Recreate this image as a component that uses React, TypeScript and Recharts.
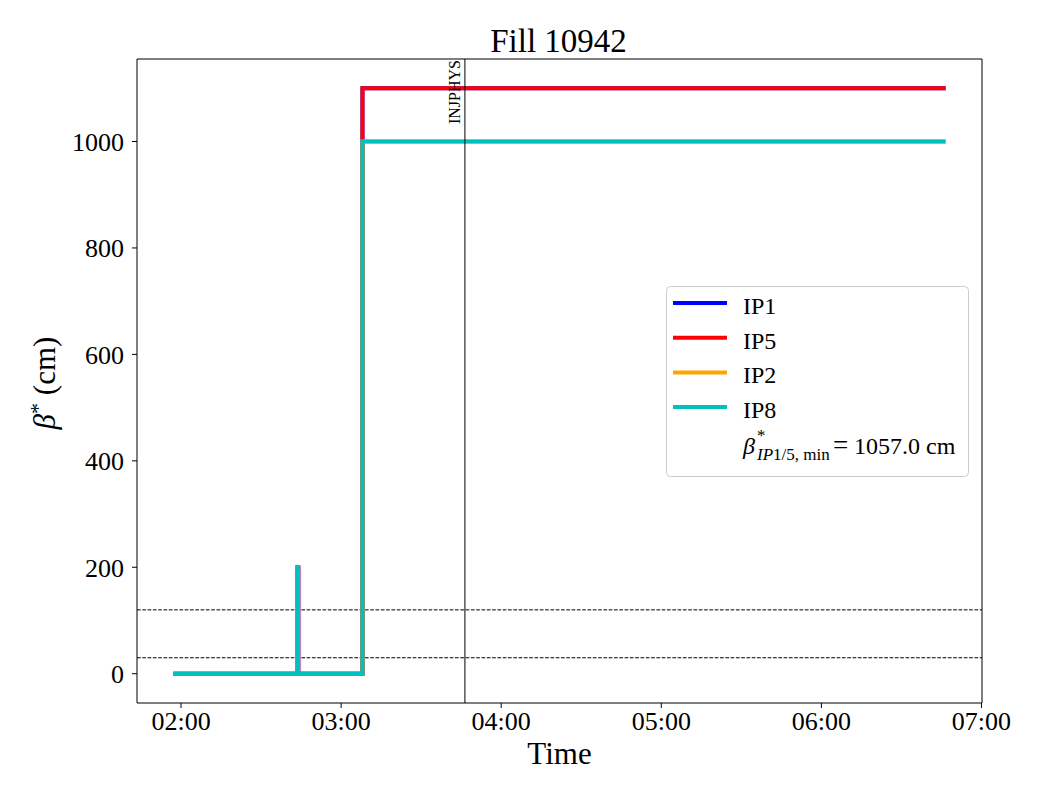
import { LineChart, Line, XAxis, YAxis, ReferenceLine, Legend, Label } from 'recharts'

// time in minutes after midnight, beta* in cm
const TIME_IP15 = [117.9, 163.75, 163.95, 188.0, 405.8]
const TIME_IP28 = [117.9, 163.55, 163.75, 188.0, 405.8]
const BETA_IP1 = [0, 200, 0, 1100, 1100]
const BETA_IP5 = [0, 200, 0, 1100, 1100]
const BETA_IP2 = [0, 200, 0, 1000, 1000]
const BETA_IP8 = [0, 200, 0, 1000, 1000]

const X_TICKS = [120, 180, 240, 300, 360, 420]
const Y_TICKS = [0, 200, 400, 600, 800, 1000]
const X_DOMAIN: [number, number] = [103.5, 420.2]
const Y_DOMAIN: [number, number] = [-55, 1155]
const THRESHOLDS = [120, 30]
const INJPHYS_TIME = 226.4
const FILL = 10942
const BETA_MIN = 1057.0

const FONT = "'Liberation Serif', 'Times New Roman', serif"

const toRows = (t: number[], b: number[]) => t.map((x, i) => ({ t: x, beta: b[i] }))

const SERIES = [
  { name: 'IP1', color: '#0000ff', data: toRows(TIME_IP15, BETA_IP1) },
  { name: 'IP5', color: '#ff0000', data: toRows(TIME_IP15, BETA_IP5) },
  { name: 'IP2', color: '#ffa500', data: toRows(TIME_IP28, BETA_IP2) },
  { name: 'IP8', color: '#00bfbf', data: toRows(TIME_IP28, BETA_IP8) },
]

const hhmm = (m: number) =>
  `${String(Math.floor(m / 60)).padStart(2, '0')}:${String(Math.round(m % 60)).padStart(2, '0')}`

function LegendBox() {
  return (
    <svg width={304} height={192} style={{ display: 'block' }} fontFamily={FONT}>
      <rect x={0.5} y={0.5} width={302} height={190} rx={4} fill="#fff" fillOpacity={0.8} stroke="#cccccc" />
      {SERIES.map((s, i) => (
        <g key={s.name}>
          <line x1={7} x2={61} y1={17 + i * 34.7} y2={17 + i * 34.7} stroke={s.color} strokeWidth={4} />
          <text x={77} y={28 + i * 34.7} fontSize={24} fill="#000">
            {s.name}
          </text>
        </g>
      ))}
      <text x={77} y={168} fontSize={24} fontStyle="italic" fill="#000">β</text>
      <text x={91} y={155} fontSize={17} fill="#000">*</text>
      <text x={91} y={174} fontSize={17} fill="#000">
        <tspan fontStyle="italic">IP</tspan>1/5, min
      </text>
      <text x={167} y={168} fontSize={27} fill="#000">=</text>
      <text x={188} y={168} fontSize={24} fill="#000">{`${BETA_MIN.toFixed(1)} cm`}</text>
    </svg>
  )
}

export default function App() {
  return (
    <div style={{ position: 'absolute', left: 0, top: 0, width: 1040, height: 800, background: '#fff' }}>
      <LineChart width={1040} height={800} margin={{ top: 59, right: 58, left: 0, bottom: 0 }} style={{ fontFamily: FONT }}>
        <XAxis
          dataKey="t"
          type="number"
          domain={X_DOMAIN}
          allowDataOverflow
          ticks={X_TICKS}
          tickFormatter={hhmm}
          height={97}
          stroke="#000"
          tickSize={5}
          tickMargin={4}
          tick={{ fill: '#000', fontSize: 26, fontFamily: FONT }}
        >
          <Label
            content={({ viewBox }: any) => (
              <text x={viewBox.x + viewBox.width / 2} y={viewBox.y + 61} textAnchor="middle" fontSize={31} fontFamily={FONT} fill="#000">
                Time
              </text>
            )}
          />
        </XAxis>
        <YAxis
          type="number"
          domain={Y_DOMAIN}
          allowDataOverflow
          ticks={Y_TICKS}
          width={137}
          stroke="#000"
          tickSize={5}
          tickMargin={8}
          tick={{ fill: '#000', fontSize: 26, fontFamily: FONT }}
        >
          <Label
            content={() => (
              <text x={55} y={383} transform="rotate(-90, 55, 383)" textAnchor="middle" fontSize={31} fontFamily={FONT} fill="#000">
                <tspan fontStyle="italic">β</tspan>
                <tspan dy={-10} fontSize={22}>*</tspan>
                <tspan dy={10}>{' (cm)'}</tspan>
              </text>
            )}
          />
        </YAxis>
        {/* top and right spines; the top one also carries the title */}
        <ReferenceLine
          y={Y_DOMAIN[1]}
          stroke="#000"
          strokeWidth={1}
          label={({ viewBox }: any) => (
            <text x={viewBox.x + viewBox.width / 2 - 1} y={52} textAnchor="middle" fontSize={33} fontFamily={FONT} fill="#000">
              {`Fill ${FILL}`}
            </text>
          )}
        />
        <ReferenceLine x={X_DOMAIN[1]} stroke="#000" strokeWidth={1} />
        {THRESHOLDS.map((y) => (
          <ReferenceLine key={y} y={y} stroke="#000" strokeWidth={1} strokeDasharray="3.7 1.6" />
        ))}
        {SERIES.map((s) => (
          <Line
            key={s.name}
            data={s.data}
            dataKey="beta"
            name={s.name}
            type="stepAfter"
            stroke={s.color}
            strokeWidth={4}
            strokeLinecap="square"
            dot={false}
            activeDot={false}
            isAnimationActive={false}
          />
        ))}
        <ReferenceLine
          x={INJPHYS_TIME}
          stroke="#000"
          strokeWidth={1}
          label={({ viewBox }: any) => (
            <text
              x={viewBox.x - 5}
              y={viewBox.y + 1}
              transform={`rotate(-90, ${viewBox.x - 5}, ${viewBox.y + 1})`}
              textAnchor="end"
              fontSize={16}
              fontFamily={FONT}
              fill="#000"
            >
              INJPHYS
            </text>
          )}
        />
        <Legend
          layout="horizontal"
          align="center"
          verticalAlign="middle"
          content={() => <LegendBox />}
          wrapperStyle={{ left: 666, top: 286, width: 304, height: 192 }}
        />
      </LineChart>
    </div>
  )
}
